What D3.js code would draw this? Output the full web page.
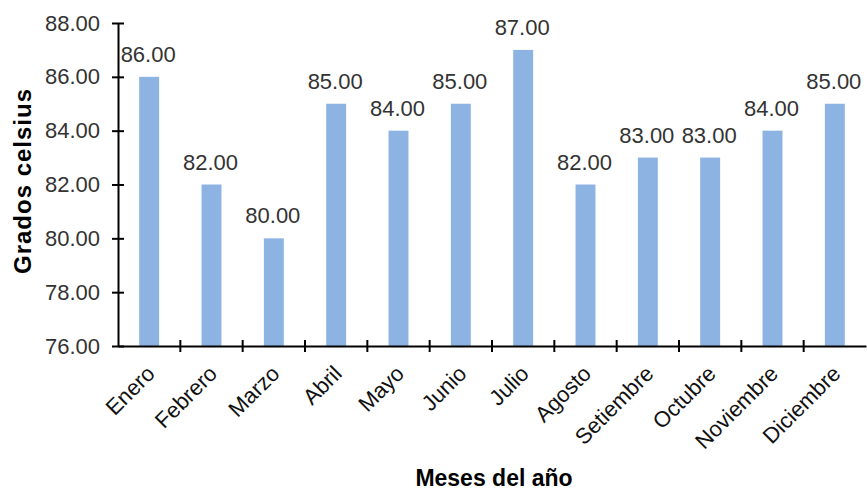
<!DOCTYPE html>
<head>
<meta charset="utf-8">
<script src="https://d3js.org/d3.v7.min.js"></script>
<style>
  body { margin: 0; background: #fff; }
  text { font-family: "Liberation Sans", Arial, sans-serif; }
</style>
</head>
<body>
<div id="chart"></div>
<script>
var months = ["Enero", "Febrero", "Marzo", "Abril", "Mayo", "Junio", "Julio", "Agosto",
              "Setiembre", "Octubre", "Noviembre", "Diciembre"];
var temps = [86, 82, 80, 85, 84, 85, 87, 82, 83, 83, 84, 85];
var yTicks = [76, 78, 80, 82, 84, 86, 88];

var width = 867, height = 492;
var margin = {top: 23, right: 1, bottom: 146, left: 118};

var svg = d3.select("#chart").append("svg")
    .attr("width", width)
    .attr("height", height);

var x = d3.scaleBand()
    .domain(months)
    .range([margin.left, width - margin.right])
    .paddingInner(0.68)
    .paddingOuter(0.34);

var y = d3.scaleLinear()
    .domain([76, 88])
    .range([height - margin.bottom, margin.top]);

// bars
svg.selectAll("rect.bar")
    .data(temps)
    .enter().append("rect")
    .attr("class", "bar")
    .attr("x", function(d, i) { return x(months[i]); })
    .attr("y", function(d) { return y(d); })
    .attr("width", x.bandwidth())
    .attr("height", function(d) { return y(76) - y(d); })
    .attr("fill", "#8db3e2");

// value labels
svg.selectAll("text.val")
    .data(temps)
    .enter().append("text")
    .attr("class", "val")
    .attr("x", function(d, i) { return x(months[i]) + x.bandwidth() / 2 - 1; })
    .attr("y", function(d) { return y(d) - 15; })
    .attr("text-anchor", "middle")
    .attr("font-size", 22)
    .attr("fill", "#333")
    .text(function(d) { return d.toFixed(2); });

// y axis
var yAxis = svg.append("g")
    .attr("transform", "translate(" + margin.left + ",0)")
    .call(d3.axisLeft(y).tickValues(yTicks).tickSize(0).tickPadding(18)
        .tickFormat(function(d) { return d.toFixed(2); }));
yAxis.select(".domain").attr("stroke", "#000").attr("stroke-width", 2);
yAxis.selectAll(".tick text").attr("font-size", 22).attr("fill", "#333")
    .attr("font-family", "Liberation Sans, Arial, sans-serif");
yAxis.selectAll(".tick").append("line")
    .attr("x1", -6).attr("x2", 6)
    .attr("stroke", "#000").attr("stroke-width", 2);

// x axis
var xBand = d3.scaleBand().domain(months).range([margin.left, width - margin.right]);
var xAxis = svg.append("g")
    .attr("transform", "translate(0," + (height - margin.bottom) + ")")
    .call(d3.axisBottom(x).tickSize(0).tickPadding(0));
xAxis.select(".domain").attr("stroke", "#000").attr("stroke-width", 2);
xAxis.selectAll(".tick text")
    .attr("font-size", 22)
    .attr("fill", "#111")
    .attr("font-family", "Liberation Sans, Arial, sans-serif")
    .attr("text-anchor", "end")
    .attr("dy", 0)
    .attr("transform", "translate(7,29) rotate(-45)");
// category separators
xAxis.selectAll("line.sep")
    .data(months.slice(1))
    .enter().append("line")
    .attr("class", "sep")
    .attr("x1", function(d) { return xBand(d); })
    .attr("x2", function(d) { return xBand(d); })
    .attr("y1", -6).attr("y2", 6)
    .attr("stroke", "#000").attr("stroke-width", 2);

// axis titles
svg.append("text")
    .attr("transform", "translate(31,181) rotate(-90)")
    .attr("text-anchor", "middle")
    .attr("font-size", 24)
    .attr("font-weight", "bold")
    .attr("letter-spacing", 1)
    .attr("fill", "#000")
    .text("Grados celsius");

svg.append("text")
    .attr("x", 494)
    .attr("y", 486)
    .attr("text-anchor", "middle")
    .attr("font-size", 23)
    .attr("font-weight", "bold")
    .attr("fill", "#000")
    .text("Meses del año");
</script>
</body>
